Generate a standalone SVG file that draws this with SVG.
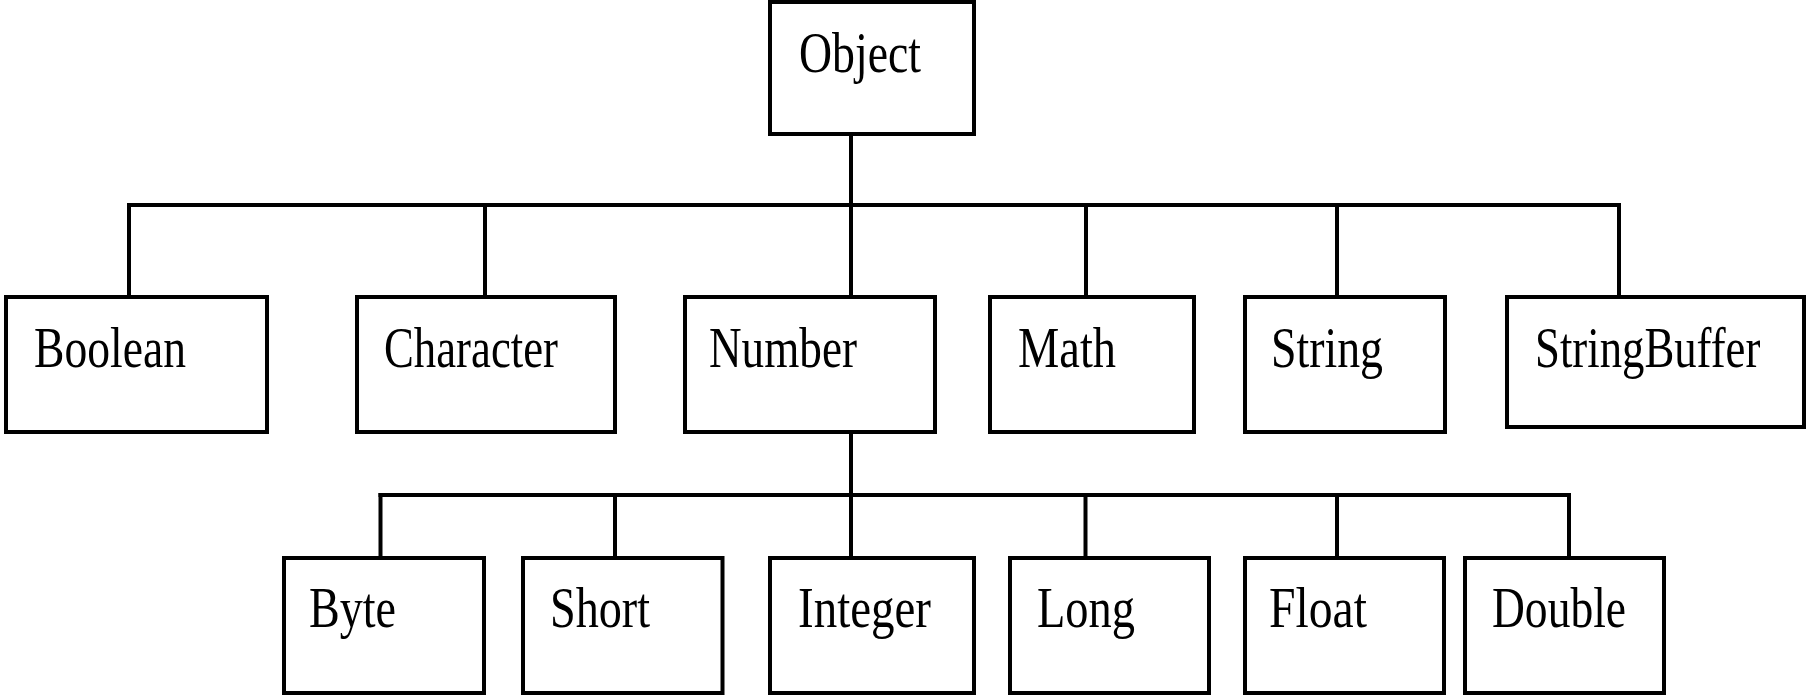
<svg xmlns="http://www.w3.org/2000/svg" width="1808" height="695" viewBox="0 0 1808 695">
<style>
.box{fill:#fff;stroke:#000;stroke-width:4}
.lbl{font-family:"Liberation Serif","Times New Roman",serif;font-size:57px;fill:#000}
.ln{stroke:#000;stroke-width:4;fill:none;stroke-linecap:square}
</style>
<rect width="1808" height="695" fill="#fff"/>
<g id="connectors">
<line class="ln" x1="851" y1="136" x2="851" y2="205"/>
<line class="ln" x1="129" y1="205" x2="1619" y2="205"/>
<line class="ln" x1="129" y1="205" x2="129" y2="297"/>
<line class="ln" x1="485" y1="205" x2="485" y2="297"/>
<line class="ln" x1="851" y1="205" x2="851" y2="297"/>
<line class="ln" x1="1086" y1="205" x2="1086" y2="297"/>
<line class="ln" x1="1337" y1="205" x2="1337" y2="297"/>
<line class="ln" x1="1619" y1="205" x2="1619" y2="297"/>
<line class="ln" x1="851" y1="434" x2="851" y2="495"/>
<line class="ln" x1="380.5" y1="495" x2="1569" y2="495"/>
<line class="ln" x1="380.5" y1="495" x2="380.5" y2="558"/>
<line class="ln" x1="615" y1="495" x2="615" y2="563"/>
<line class="ln" x1="851" y1="495" x2="851" y2="558"/>
<line class="ln" x1="1085.5" y1="495" x2="1085.5" y2="563"/>
<line class="ln" x1="1337" y1="495" x2="1337" y2="563"/>
<line class="ln" x1="1569" y1="495" x2="1569" y2="563"/>
</g>
<g id="object"><rect class="box" x="770" y="2" width="204" height="132"/><text class="lbl" x="799" y="72" textLength="122" lengthAdjust="spacingAndGlyphs">Object</text></g>
<g id="boolean"><rect class="box" x="6" y="297" width="261" height="135"/><text class="lbl" x="34" y="367" textLength="152" lengthAdjust="spacingAndGlyphs">Boolean</text></g>
<g id="character"><rect class="box" x="357" y="297" width="258" height="135"/><text class="lbl" x="384" y="367" textLength="174" lengthAdjust="spacingAndGlyphs">Character</text></g>
<g id="number"><rect class="box" x="685" y="297" width="250" height="135"/><text class="lbl" x="709" y="367" textLength="148" lengthAdjust="spacingAndGlyphs">Number</text></g>
<g id="math"><rect class="box" x="990" y="297" width="204" height="135"/><text class="lbl" x="1018" y="367" textLength="98" lengthAdjust="spacingAndGlyphs">Math</text></g>
<g id="string"><rect class="box" x="1245" y="297" width="200" height="135"/><text class="lbl" x="1271" y="367" textLength="112" lengthAdjust="spacingAndGlyphs">String</text></g>
<g id="stringbuffer"><rect class="box" x="1507" y="297" width="297" height="130"/><text class="lbl" transform="translate(1535,367) scale(0.785,1)" x="0" y="0">StringBuffer</text></g>
<g id="byte"><rect class="box" x="284" y="558" width="200" height="135"/><text class="lbl" x="309" y="627" textLength="87" lengthAdjust="spacingAndGlyphs">Byte</text></g>
<g id="short"><rect class="box" x="523" y="558" width="199.5" height="135"/><text class="lbl" x="550" y="627" textLength="100" lengthAdjust="spacingAndGlyphs">Short</text></g>
<g id="integer"><rect class="box" x="770" y="558" width="204" height="135"/><text class="lbl" x="798" y="627" textLength="133" lengthAdjust="spacingAndGlyphs">Integer</text></g>
<g id="long"><rect class="box" x="1010" y="558" width="199" height="135"/><text class="lbl" x="1037" y="627" textLength="98" lengthAdjust="spacingAndGlyphs">Long</text></g>
<g id="float"><rect class="box" x="1245" y="558" width="199" height="135"/><text class="lbl" x="1269" y="627" textLength="98" lengthAdjust="spacingAndGlyphs">Float</text></g>
<g id="double"><rect class="box" x="1465" y="558" width="199" height="135"/><text class="lbl" x="1492" y="627" textLength="134" lengthAdjust="spacingAndGlyphs">Double</text></g>
</svg>
